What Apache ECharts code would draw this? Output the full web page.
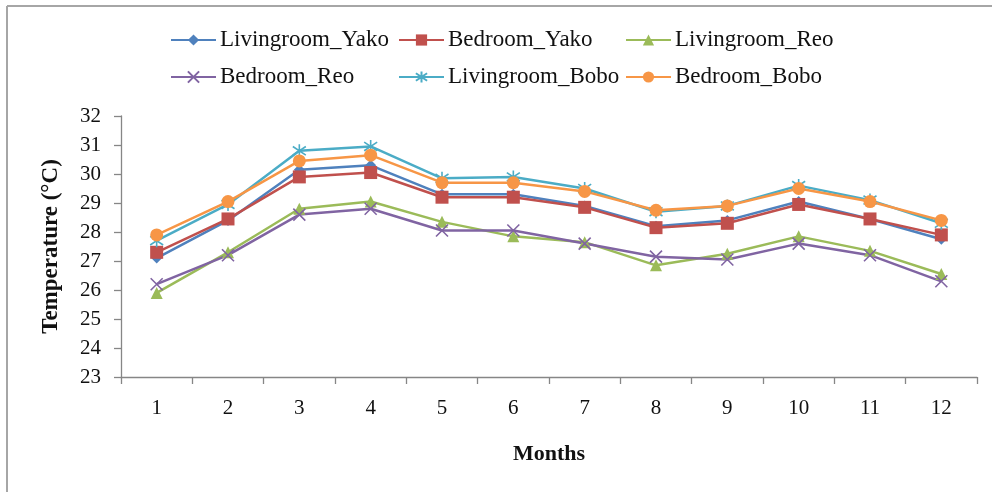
<!DOCTYPE html>
<html>
<head>
<meta charset="utf-8">
<script src="https://cdn.jsdelivr.net/npm/echarts@6/dist/echarts.min.js"></script>
<style>html,body{margin:0;padding:0;background:#fff;}#c{width:992px;height:492px;}</style>
</head>
<body>
<div id="c"></div>
<script>
const months = ['1','2','3','4','5','6','7','8','9','10','11','12'];
const seriesNames = ['Livingroom_Yako','Bedroom_Yako','Livingroom_Reo','Bedroom_Reo','Livingroom_Bobo','Bedroom_Bobo'];
const livingroomYako = [27.1, 28.4, 30.15, 30.3, 29.3, 29.3, 28.9, 28.2, 28.4, 29.05, 28.45, 27.75];
const bedroomYako    = [27.3, 28.45, 29.9, 30.05, 29.2, 29.2, 28.85, 28.15, 28.3, 28.95, 28.45, 27.9];
const livingroomReo  = [25.9, 27.3, 28.8, 29.05, 28.35, 27.85, 27.65, 26.85, 27.25, 27.85, 27.35, 26.55];
const bedroomReo     = [26.2, 27.2, 28.6, 28.8, 28.05, 28.05, 27.6, 27.15, 27.05, 27.6, 27.2, 26.3];
const livingroomBobo = [27.7, 28.95, 30.8, 30.95, 29.85, 29.9, 29.5, 28.7, 28.9, 29.6, 29.1, 28.3];
const bedroomBobo    = [27.9, 29.05, 30.45, 30.65, 29.7, 29.7, 29.4, 28.75, 28.9, 29.5, 29.05, 28.4];
const yTicks = {min: 23, max: 32, interval: 1};

const values = [livingroomYako, bedroomYako, livingroomReo, bedroomReo, livingroomBobo, bedroomBobo];
const colors = ['#4F81BD','#C0504D','#9BBB59','#8064A2','#4BACC6','#F79646'];
const symbols = ['diamond','rect','triangle','path://M0,0L10,10M10,0L0,10','path://M0,1L10,9M10,1L0,9M5,-1L5,11','circle'];
const symbolSizes = [11, 13, 12, 12, 13, 13];
const FONT = '"Liberation Serif", "Times New Roman", serif';

const legendPos = [[170,28],[398,28],[625,28],[170,65],[398,65],[625,65]];

const chart = echarts.init(document.getElementById('c'), null, {renderer:'canvas'});
chart.setOption({
  backgroundColor: '#fff',
  animation: false,
  graphic: [
    {type:'line', shape:{x1:7,y1:6,x2:992,y2:6}, style:{stroke:'#a6a6a6', lineWidth:2}},
    {type:'line', shape:{x1:7,y1:6,x2:7,y2:492}, style:{stroke:'#a6a6a6', lineWidth:2}}
  ],
  legend: seriesNames.map((n,i)=>({
    data:[n], left: legendPos[i][0], top: legendPos[i][1], padding:0,
    itemWidth:45, itemHeight:14, itemGap:0,
    textStyle:{fontFamily:FONT, fontSize:23, color:'#111', lineHeight:24, padding:[0,0,0,-1]}
  })),
  grid: {left:121, right:15, top:116, bottom:115, containLabel:false},
  xAxis: {
    type:'category', data: months, boundaryGap:true,
    name:'Months', nameLocation:'middle', nameGap:66,
    nameTextStyle:{fontFamily:FONT, fontSize:22, fontWeight:'bold', color:'#111'},
    axisLine:{lineStyle:{color:'#868686', width:1.3}},
    axisTick:{show:true, length:7, lineStyle:{color:'#868686', width:1.3}},
    axisLabel:{fontFamily:FONT, fontSize:21, color:'#111', margin:21},
    splitLine:{show:false}
  },
  yAxis: {
    type:'value', min:yTicks.min, max:yTicks.max, interval:yTicks.interval,
    name:'Temperature (°C)', nameLocation:'middle', nameGap:58, nameRotate:90,
    nameTextStyle:{fontFamily:FONT, fontSize:23, fontWeight:'bold', color:'#111'},
    axisLine:{show:true, lineStyle:{color:'#868686', width:1.3}},
    axisTick:{show:true, length:7, lineStyle:{color:'#868686', width:1.3}},
    axisLabel:{fontFamily:FONT, fontSize:21, color:'#111', margin:20},
    splitLine:{show:false}
  },
  series: seriesNames.map((n,i)=>({
    name:n, type:'line', data: values[i],
    symbol: symbols[i], symbolSize: symbolSizes[i], showAllSymbol:true,
    lineStyle:{color:colors[i], width:2.5},
    itemStyle:{color:colors[i], borderColor:colors[i], borderWidth:(i===3||i===4)?1.6:0},
    emphasis:{disabled:true}
  }))
});
</script>
</body>
</html>
